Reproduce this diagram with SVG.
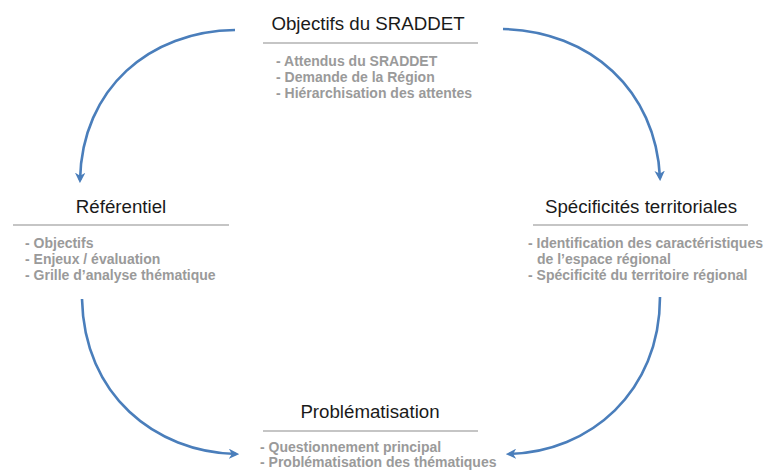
<svg xmlns="http://www.w3.org/2000/svg" width="769" height="471" viewBox="0 0 769 471">
<defs>
<marker id="ah" viewBox="0 0 10 10" refX="7" refY="5" markerWidth="4" markerHeight="4" orient="auto" markerUnits="strokeWidth">
<path d="M0,0 L10,5 L0,10 L3,5 Z" fill="#4a7ebb"/>
</marker>
<style>
.title{font-family:"Liberation Sans",Arial,sans-serif;font-size:18.7px;fill:#1a1a1a;text-anchor:middle}
.item{font-family:"Liberation Sans",Arial,sans-serif;font-size:14px;font-weight:bold;fill:#9a9a9a}
.rule{stroke:#8c8c8c;stroke-width:1.2}
.arc{fill:none;stroke:#4a7ebb;stroke-width:2.6;marker-end:url(#ah)}
</style>
</defs>
<rect width="769" height="471" fill="#fff"/>
<g id="connectors">
<path class="arc" d="M235,30 C150,31 82,88 80,180"/>
<path class="arc" d="M503,29 C590,31 656,90 660,178"/>
<path class="arc" d="M82,299 C84,395 155,452 236,454"/>
<path class="arc" d="M660,297 C660,392 590,452 509,454"/>
</g>
<g id="objectifs">
<text class="title" x="368" y="30">Objectifs du SRADDET</text>
<line class="rule" x1="263" y1="43" x2="478" y2="43"/>
<text class="item" x="276" y="66">- Attendus du SRADDET</text>
<text class="item" x="276" y="82">- Demande de la Région</text>
<text class="item" x="276" y="98">- Hiérarchisation des attentes</text>
</g>
<g id="referentiel">
<text class="title" x="121" y="213">Référentiel</text>
<line class="rule" x1="13" y1="225" x2="229" y2="225"/>
<text class="item" x="25" y="248">- Objectifs</text>
<text class="item" x="25" y="264">- Enjeux / évaluation</text>
<text class="item" x="25" y="280">- Grille d’analyse thématique</text>
</g>
<g id="specificites">
<text class="title" x="641" y="213">Spécificités territoriales</text>
<line class="rule" x1="533" y1="225" x2="748" y2="225"/>
<text class="item" x="528" y="248">- Identification des caractéristiques</text>
<text class="item" x="537" y="264">de l’espace régional</text>
<text class="item" x="528" y="280">- Spécificité du territoire régional</text>
</g>
<g id="problematisation">
<text class="title" x="370" y="418">Problématisation</text>
<line class="rule" x1="263" y1="431" x2="478" y2="431"/>
<text class="item" x="260" y="452">- Questionnement principal</text>
<text class="item" x="260" y="467">- Problématisation des thématiques</text>
</g>
</svg>
